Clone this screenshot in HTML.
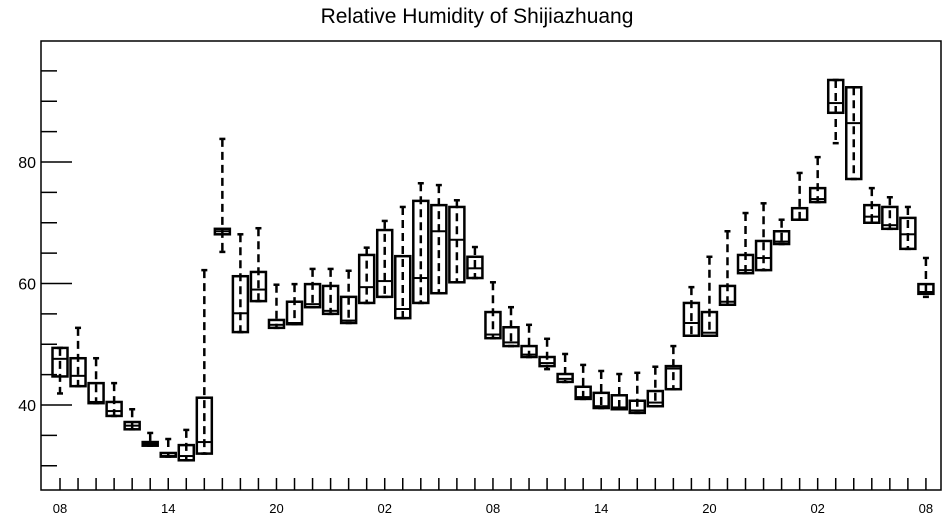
<!DOCTYPE html>
<html><head><meta charset="utf-8"><style>
body{margin:0;background:#fff}
svg{display:block;font-family:"Liberation Sans",Arial,sans-serif}
</style></head><body>
<svg id="chart" width="947" height="520">
<text x="477" y="23" text-anchor="middle" font-size="21">Relative Humidity of Shijiazhuang</text>
<rect x="41" y="41" width="900" height="449" fill="none" stroke="#000" stroke-width="1.5"/>
<g id="axes"></g>
<g id="marks"></g>
</svg>
<script>
// [min, q1, median, q3, max] per hour
const hours = ["08","09","10","11","12","13","14","15","16","17","18","19","20","21","22","23","00","01","02","03","04","05","06","07","08","09","10","11","12","13","14","15","16","17","18","19","20","21","22","23","00","01","02","03","04","05","06","07","08"];
const mins = [41.9,43.1,40.3,38.2,36.0,33.3,31.5,30.9,32.0,65.2,52.0,57.1,52.7,53.3,56.1,55.0,53.5,56.8,57.8,54.3,56.8,58.4,60.2,60.9,51.0,49.7,47.9,45.9,43.8,41.0,39.5,39.3,38.7,39.8,42.6,51.4,51.4,56.5,61.7,62.2,66.5,70.5,73.4,83.1,77.2,70.0,69.0,65.7,57.8];
const q1s = [44.7,43.1,40.3,38.2,36.0,33.3,31.5,30.9,32.0,68.1,52.0,57.1,52.7,53.3,56.1,55.0,53.5,56.8,57.8,54.3,56.8,58.4,60.2,60.9,51.0,49.7,47.9,46.4,43.8,41.0,39.5,39.3,38.7,39.8,42.6,51.4,51.4,56.5,61.7,62.2,66.5,70.5,73.4,88.1,77.2,70.0,69.0,65.7,58.3];
const medians = [47.6,44.8,40.5,39.0,36.6,33.6,31.6,31.6,33.9,68.6,55.1,59.0,53.2,53.5,56.6,55.5,53.9,59.4,60.4,55.8,60.9,68.6,67.2,62.5,51.6,50.3,48.3,46.9,44.3,41.3,39.8,39.6,39.1,40.4,46.0,53.5,51.9,57.0,62.2,64.2,66.9,70.5,73.9,89.7,86.4,71.0,69.6,68.1,58.6];
const q3s = [49.4,47.7,43.6,40.5,37.2,33.9,32.1,33.4,41.2,69.0,61.2,61.9,54.0,57.0,59.9,59.6,57.8,64.7,68.8,64.5,73.6,72.9,72.6,64.4,55.3,52.8,49.7,47.9,45.1,43.0,42.0,41.6,40.7,42.3,46.4,56.8,55.3,59.6,64.7,67.0,68.6,72.4,75.7,93.5,92.3,72.9,72.6,70.8,59.9];
const maxs = [49.4,52.7,47.7,43.6,39.3,35.4,34.4,35.9,62.2,83.8,68.1,69.1,59.8,59.9,62.4,62.4,62.1,65.9,70.3,72.6,76.5,76.2,73.7,66.0,60.2,56.1,53.2,50.9,48.4,46.6,45.6,45.1,45.3,46.3,49.7,59.4,64.4,68.6,71.6,73.2,70.5,78.2,80.8,93.5,92.3,75.7,74.2,72.6,64.2];
const yTicks = [30,35,40,45,50,55,60,65,70,75,80,85,90,95];
const yLabels = [40,60,80];

const NS="http://www.w3.org/2000/svg";
const X=i=>60+i*18.04;
const Y=v=>162-(v-80)*6.075;
function mk(tag,attrs,parent){const e=document.createElementNS(NS,tag);for(const k in attrs)e.setAttribute(k,attrs[k]);parent.appendChild(e);return e;}
const axes=document.getElementById('axes'), marks=document.getElementById('marks');
yTicks.forEach(t=>{
  const long=yLabels.includes(t);
  const l=mk('line',{x1:41,x2:long?72:57,y1:Y(t),y2:Y(t),stroke:'#000','stroke-width':1.5},axes);
  
  
  if(long){const tx=mk('text',{x:36,y:Y(t)+6,'text-anchor':'end','font-size':16},axes);tx.textContent=t;
    
    }
});
hours.forEach((h,i)=>{
  const l=mk('line',{x1:X(i),x2:X(i),y1:478,y2:490,stroke:'#000','stroke-width':1.5},axes);
  
  
  if(i%6===0){const tx=mk('text',{x:X(i),y:513,'text-anchor':'middle','font-size':13},axes);tx.textContent=h;
    
    }
});
hours.forEach((h,i)=>{
  const g=mk('g',{},marks);
  
  
  const x=X(i),w=15;
  mk('line',{x1:x,x2:x,y1:Y(maxs[i]),y2:Y(mins[i]),stroke:'#000','stroke-width':2.5,'stroke-dasharray':'8,5'},g);
  mk('line',{x1:x-3,x2:x+3,y1:Y(maxs[i]),y2:Y(maxs[i]),stroke:'#000','stroke-width':2.5},g);
  mk('line',{x1:x-3,x2:x+3,y1:Y(mins[i]),y2:Y(mins[i]),stroke:'#000','stroke-width':2.5},g);
  mk('rect',{x:x-w/2,y:Y(q3s[i]),width:w,height:Math.max(1,Y(q1s[i])-Y(q3s[i])),fill:'none',stroke:'#000','stroke-width':2.5},g);
  mk('line',{x1:x-w/2,x2:x+w/2,y1:Y(medians[i]),y2:Y(medians[i]),stroke:'#000','stroke-width':2},g);
});
</script>
</body></html>
